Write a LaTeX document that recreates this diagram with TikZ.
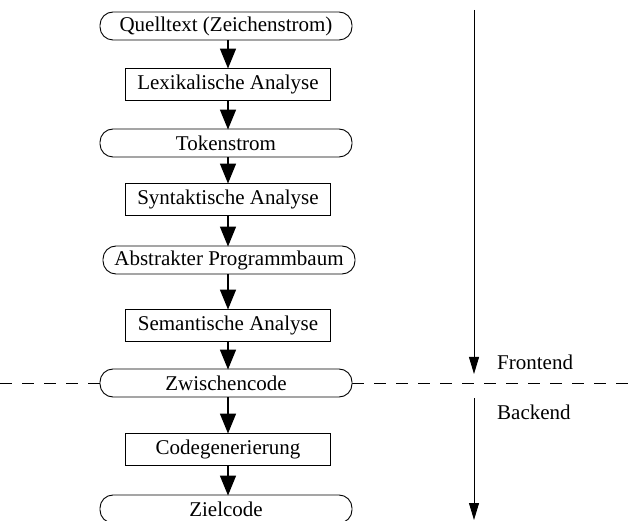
\documentclass[tikz,border=0pt]{standalone}
\usepackage{fontspec}
\setmainfont{Liberation Serif}
\usetikzlibrary{arrows.meta}
\begin{document}
\begin{tikzpicture}[x=1pt,y=-1pt,
  every node/.style={font=\fontsize{21}{24}\selectfont, inner sep=0pt},
  datastream/.style={draw, fill=white, line width=0.9pt, rounded corners=13pt,
    minimum width=252pt, minimum height=28pt},
  phase/.style={draw, fill=white, line width=0.9pt, minimum width=205pt, minimum height=32pt},
  flow/.style={line width=1.5pt, -{Triangle[length=20pt,width=16pt]}, shorten >=-1pt},
  span/.style={line width=0.9pt, -{Triangle[length=17pt,width=10pt]}},
  divider/.style={line width=0.7pt, dash pattern=on 12pt off 10pt}]
\useasboundingbox (0,0) rectangle (632,521);
\begin{scope}
\clip (0,0) rectangle (632,521);
\draw[divider] (0,383) -- (632,383);

\node[datastream] (q)  at (226,26)  {Quelltext (Zeichenstrom)};
\node[phase]      (lex) at (228,84) {Lexikalische Analyse};
\node[datastream] (tok) at (226,143) {Tokenstrom};
\node[phase]      (syn) at (228,199) {Syntaktische Analyse};
\node[datastream] (ast) at (229,260) {Abstrakter Programmbaum};
\node[phase]      (sem) at (228,325) {Semantische Analyse};
\node[datastream] (ir)  at (226,383) {Zwischencode};
\node[phase]      (gen) at (228,449) {Codegenerierung};
\node[datastream] (out) at (226,509) {Zielcode};

\draw[flow] (q.south -| lex.north) -- (lex.north);
\draw[flow] (lex.south) -- (lex.south |- tok.north);
\draw[flow] (tok.south -| syn.north) -- (syn.north);
\draw[flow] (syn.south) -- (syn.south |- ast.north);
\draw[flow] (ast.south -| sem.north) -- (sem.north);
\draw[flow] (sem.south) -- (sem.south |- ir.north);
\draw[flow] (ir.south -| gen.north) -- (gen.north);
\draw[flow] (gen.south) -- (gen.south |- out.north);

\coordinate (f0) at (474,10);
\coordinate (f1) at (474,374);
\coordinate (b0) at (474,398);
\coordinate (b1) at (474,520);
\draw[span] (f0) -- (f1);
\draw[span] (b0) -- (b1);
\node[anchor=west] (fe) at (497,362) {Frontend};
\node[anchor=west] (be) at (497,412) {Backend};
\end{scope}
\end{tikzpicture}
\end{document}
